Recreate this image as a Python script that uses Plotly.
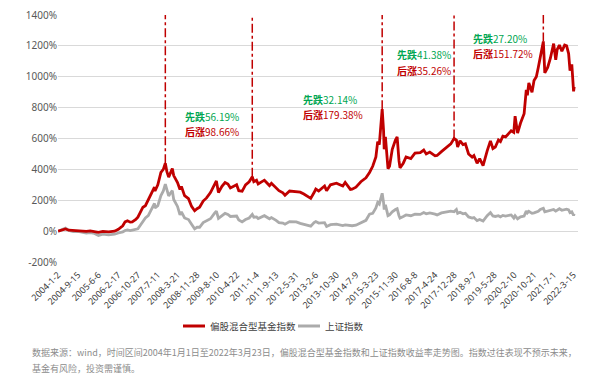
import plotly.graph_objects as go

dates = [
    "2004-01-02","2004-02-15","2004-04-07","2004-05-20","2004-07-15","2004-09-15","2004-11-01","2004-12-31",
    "2005-02-20","2005-04-15","2005-06-06","2005-08-01","2005-10-15","2005-12-31","2006-02-17","2006-04-15",
    "2006-05-15","2006-06-15","2006-07-20","2006-08-15","2006-09-30","2006-10-27","2006-11-30","2006-12-31",
    "2007-02-01","2007-03-10","2007-04-15","2007-05-29","2007-06-05","2007-07-11","2007-08-20","2007-09-20",
    "2007-10-16","2007-11-05","2007-11-28","2007-12-20","2008-01-14","2008-02-01","2008-03-21","2008-04-22",
    "2008-05-10","2008-06-20","2008-08-10","2008-09-18","2008-10-28","2008-11-28","2008-12-31","2009-02-15",
    "2009-03-31","2009-05-20","2009-07-10","2009-08-04","2009-08-31","2009-10-15","2009-11-24","2009-12-31",
    "2010-02-01","2010-04-22","2010-05-20","2010-07-02","2010-08-15","2010-10-01","2010-11-10","2010-11-30",
    "2011-01-04","2011-01-25","2011-04-15","2011-06-20","2011-07-15","2011-09-13","2011-10-20","2011-12-10",
    "2012-01-06","2012-03-05","2012-05-31","2012-07-20","2012-09-05","2012-12-03","2013-01-15","2013-02-06",
    "2013-03-15","2013-05-30","2013-06-25","2013-08-15","2013-10-30","2013-12-15","2014-01-20","2014-02-20",
    "2014-04-28","2014-05-20","2014-07-09","2014-09-10","2014-11-15","2014-12-31","2015-02-10","2015-03-23",
    "2015-04-15","2015-05-06","2015-05-28","2015-06-12","2015-06-30","2015-07-08","2015-07-24","2015-08-26",
    "2015-09-15","2015-10-20","2015-11-30","2015-12-22","2016-01-15","2016-01-28","2016-03-10","2016-04-15",
    "2016-06-15","2016-08-08","2016-10-15","2016-11-29","2016-12-31","2017-02-15","2017-04-24","2017-05-20",
    "2017-07-15","2017-09-10","2017-11-13","2017-12-25","2018-01-24","2018-02-09","2018-03-12","2018-04-20",
    "2018-05-20","2018-06-30","2018-08-15","2018-09-07","2018-10-18","2018-11-20","2019-01-03","2019-02-25",
    "2019-04-08","2019-05-10","2019-06-10","2019-07-20","2019-08-15","2019-09-15","2019-10-20","2019-12-31",
    "2020-02-03","2020-02-20","2020-03-23","2020-04-30","2020-06-15","2020-07-13","2020-07-27","2020-08-15",
    "2020-09-25","2020-10-21","2020-11-20","2020-12-15","2021-01-10","2021-02-18","2021-03-09","2021-04-15",
    "2021-05-20","2021-07-01","2021-07-28","2021-08-15","2021-09-13","2021-10-15","2021-11-20","2021-12-15",
    "2022-01-10","2022-01-28","2022-02-20","2022-03-09","2022-03-15","2022-03-23",
]

fund_index = [
    0, 8, 14, 6, 4, 6, 3, -2,
    2, -3, -8, -2, -5, 0, 12, 35,
    60, 67, 58, 60, 75, 90, 130, 155,
    165, 205, 240, 285, 260, 300, 380, 400,
    440, 385, 350, 380, 405, 360, 315, 270,
    290, 230, 210, 160, 132, 145, 155, 195,
    215, 250, 300, 325, 250, 290, 315, 305,
    280, 300, 262, 258, 300, 320, 352, 320,
    330, 305, 330, 295, 310, 280, 262, 248,
    232, 260, 258, 252, 240, 212, 250, 272,
    260, 292, 262, 300, 310, 300, 292, 315,
    270, 272, 285, 320, 345, 380, 420, 480,
    580, 560, 700, 790, 650, 530, 610, 405,
    420, 530, 590, 610, 455, 410, 440, 480,
    470, 505, 508, 525, 500, 512, 488, 490,
    515, 540, 565, 600, 590, 545, 585, 560,
    565, 500, 480, 490, 440, 470, 425, 520,
    585, 535, 545, 590, 580, 615, 610, 650,
    640, 745, 635, 700, 760, 915, 880, 960,
    900, 975, 1000, 1060, 1130, 1229, 1025, 1060,
    1120, 1215, 1110, 1175, 1205, 1165, 1205, 1200,
    1150, 1040, 1080, 950, 905, 935,
]

sse_index = [
    0, 10, 19, 5, -3, -2, -7, -12,
    -10, -15, -28, -20, -24, -20, -12, -5,
    4, 8, 4, 6, 10, 15, 40, 65,
    85, 100, 140, 180, 150, 165, 230, 260,
    305, 260, 228, 245, 262, 205, 160, 105,
    125, 85, 75, 45, 15, 25, 25, 55,
    65, 80, 115, 130, 82, 100, 115, 108,
    95, 98, 72, 60, 75, 85, 108, 90,
    92, 82, 100, 80, 88, 70, 55, 52,
    45, 62, 60, 50, 42, 32, 55, 62,
    52, 55, 30, 42, 45, 42, 36, 40,
    33, 35, 38, 55, 70, 110, 115, 150,
    185, 175, 215, 245, 185, 140, 170, 100,
    105, 125, 140, 145, 100, 85, 95, 105,
    100, 110, 108, 120, 112, 118, 110, 105,
    118, 125, 130, 125, 140, 115, 122, 112,
    115, 92, 85, 88, 68, 75, 65, 100,
    120, 98, 95, 100, 92, 102, 98, 105,
    85, 100, 80, 92, 98, 130, 118, 128,
    115, 118, 125, 128, 140, 148, 125, 130,
    138, 140, 130, 135, 145, 135, 140, 142,
    138, 120, 125, 110, 102, 112,
]

tick_dates = [
    "2004-01-02","2004-09-15","2005-06-06","2006-02-17","2006-10-27","2007-07-11","2008-03-21",
    "2008-11-28","2009-08-10","2010-04-22","2011-01-04","2011-09-13","2012-05-31","2013-02-06",
    "2013-10-30","2014-07-09","2015-03-23","2015-11-30","2016-08-08","2017-04-24","2017-12-28",
    "2018-09-07","2019-05-28","2020-02-10","2020-10-21","2021-07-01","2022-03-15",
]
tick_labels = [
    "2004-1-2","2004-9-15","2005-6-6","2006-2-17","2006-10-27","2007-7-11","2008-3-21",
    "2008-11-28","2009-8-10","2010-4-22","2011-1-4","2011-9-13","2012-5-31","2013-2-6",
    "2013-10-30","2014-7-9","2015-3-23","2015-11-30","2016-8-8","2017-4-24","2017-12-28",
    "2018-9-7","2019-5-28","2020-2-10","2020-10-21","2021-7-1","2022-3-15",
]
y_ticks = [-200, 0, 200, 400, 600, 800, 1000, 1200, 1400]
y_labels = ["-200%", "0%", "200%", "400%", "600%", "800%", "1000%", "1200%", "1400%"]

peak_dates = ["2007-10-16", "2010-11-10", "2015-06-12", "2017-12-25", "2021-02-18"]
fall_labels = ["56.19%", "32.14%", "41.38%", "27.20%"]
rise_labels = ["98.66%", "179.38%", "35.26%", "151.72%"]

series_names = ["偏股混合型基金指数", "上证指数"]
footer_lines = [
    "数据来源：wind，时间区间2004年1月1日至2022年3月23日，偏股混合型基金指数和上证指数收益率走势图。指数过往表现不预示未来，",
    "基金有风险，投资需谨慎。",
]

RED = "#c00000"
GRAY = "#ababab"
GREEN = "#00a651"
CJK = "Noto Sans CJK SC"

fig = go.Figure()
fig.add_trace(go.Scatter(x=dates, y=sse_index, mode="lines", name=series_names[1],
                         line=dict(color=GRAY, width=2.8), showlegend=False))
fig.add_trace(go.Scatter(x=dates, y=fund_index, mode="lines", name=series_names[0],
                         line=dict(color=RED, width=2.8), showlegend=False))

# vertical dash-dot markers at the fund index peaks
for d in peak_dates:
    v = fund_index[dates.index(d)]
    fig.add_shape(type="line", xref="x", yref="y", x0=d, x1=d, y0=v, y1=1400,
                  line=dict(color=RED, width=1.5, dash="dashdot"), layer="above")

# layout helpers (paper coords from pixel positions)
L, R, T, B = 58, 17, 15, 122
W, H = 595, 384
pw, ph = W - L - R, H - T - B


def px(x):
    return (x - L) / pw


def py(y):
    return (H - B - y) / ph


ann_pos = [(183, 116), (301, 99), (395, 55), (471, 38)]
for (ax, ay), f, r in zip(ann_pos, fall_labels, rise_labels):
    fig.add_annotation(xref="paper", yref="paper", x=px(ax), y=py(ay), xanchor="left", yanchor="middle",
                       text="<b>先跌</b>" + f, showarrow=False,
                       font=dict(family=CJK, size=10, color=GREEN))
    fig.add_annotation(xref="paper", yref="paper", x=px(ax), y=py(ay + 15), xanchor="left", yanchor="middle",
                       text="<b>后涨</b>" + r, showarrow=False,
                       font=dict(family=CJK, size=10, color=RED))

# manual legend
legend_items = [(series_names[0], RED, 183), (series_names[1], GRAY, 298)]
for name, col, lx in legend_items:
    fig.add_shape(type="line", xref="paper", yref="paper", x0=px(lx), x1=px(lx + 22), y0=py(326), y1=py(326),
                  line=dict(color=col, width=3))
    fig.add_annotation(xref="paper", yref="paper", x=px(lx + 25), y=py(326), xanchor="left", yanchor="middle",
                       text=name, showarrow=False, font=dict(family=CJK, size=9.5, color="#404040"))

for i, line in enumerate(footer_lines):
    fig.add_annotation(xref="paper", yref="paper", x=px(30), y=py(352 + 16 * i), xanchor="left", yanchor="middle",
                       text=line, showarrow=False,
                       font=dict(family=CJK, size=9, color="#8c8c8c"))

fig.update_layout(
    width=W, height=H,
    margin=dict(l=L, r=R, t=T, b=B, pad=0, autoexpand=False),
    paper_bgcolor="white", plot_bgcolor="white",
    font=dict(family="Noto Sans, " + CJK, color="#595959"),
    showlegend=False,
)
fig.update_xaxes(type="date", range=["2004-01-01", "2022-05-11"], showgrid=False, zeroline=False,
                 showline=False, tickmode="array", tickvals=tick_dates, ticktext=tick_labels,
                 tickangle=-45, tickfont=dict(size=9, color="#404040", family="Noto Sans"), ticks="",
                 ticklabelstandoff=5, automargin=False)
fig.update_yaxes(range=[-200, 1400], tickmode="array", tickvals=y_ticks, ticktext=y_labels,
                 showgrid=True, gridcolor="#d9d9d9", gridwidth=1, zeroline=False, showline=False,
                 tickfont=dict(size=10, color="#595959", family="Noto Sans"), ticks="",
                 automargin=False)

fig.write_html("out.html", config={"displayModeBar": False},
               post_script="document.body.style.margin='0px';")
